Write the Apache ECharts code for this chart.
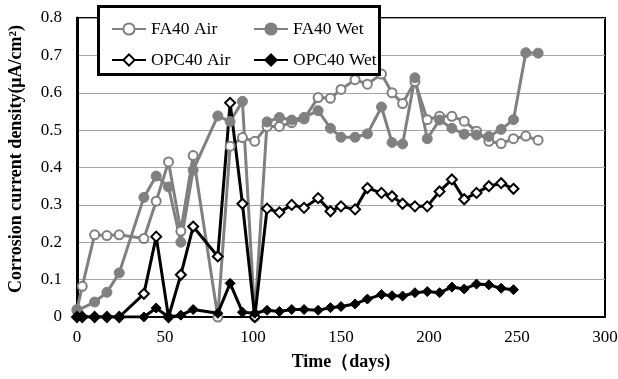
<!DOCTYPE html>
<html>
<head>
<meta charset="utf-8">
<script src="https://cdn.jsdelivr.net/npm/echarts@6/dist/echarts.min.js"></script>
<style>html,body{margin:0;padding:0;background:#fff}#c{width:618px;height:379px}</style>
</head>
<body>
<div id="c"></div>
<script>
// Days of measurement
var faAirDays = [0,3,10,17,24,38,45,52,59,66,80,87,94,101,108,115,122,129,137,144,150,158,165,173,179,185,192,199,206,213,220,227,234,241,248,255,262];
var faAir = [0.02,0.082,0.22,0.218,0.22,0.21,0.31,0.415,0.23,0.432,0.0,0.457,0.48,0.47,0.51,0.51,0.52,0.53,0.587,0.585,0.609,0.635,0.623,0.65,0.6,0.571,0.63,0.528,0.537,0.537,0.524,0.497,0.47,0.464,0.477,0.484,0.473];
var faWetDays = [0,10,17,24,38,45,52,59,66,80,87,94,101,108,115,122,129,137,144,150,158,165,173,179,185,192,199,206,213,220,227,234,241,248,255,262];
var faWet = [0.017,0.04,0.066,0.118,0.32,0.377,0.348,0.2,0.393,0.538,0.523,0.577,0.0,0.522,0.534,0.527,0.534,0.552,0.505,0.481,0.481,0.49,0.562,0.467,0.463,0.64,0.477,0.527,0.505,0.489,0.487,0.483,0.502,0.528,0.707,0.706];
var opcDays = [0,3,10,17,24,38,45,52,59,66,80,87,94,101,108,115,122,129,137,144,150,158,165,173,179,185,192,199,206,213,220,227,234,241,248];
var opcAir = [0,0,0,0,0,0.062,0.215,0,0.113,0.242,0.162,0.573,0.303,0,0.29,0.28,0.3,0.292,0.318,0.283,0.296,0.288,0.345,0.332,0.323,0.303,0.296,0.296,0.336,0.368,0.315,0.332,0.35,0.358,0.343];
var opcWet = [0,0,0,0,0,0,0.024,0,0.005,0.02,0.01,0.09,0.013,0.01,0.018,0.015,0.02,0.02,0.018,0.025,0.028,0.035,0.048,0.06,0.057,0.056,0.065,0.068,0.065,0.08,0.075,0.088,0.086,0.077,0.073];
var seriesNames = ['FA40 Air','FA40 Wet','OPC40 Air','OPC40 Wet'];
var xTitle = 'Time\uFF08days)';
var yTitle = 'Corrosion current density(\u03BCA/cm\u00B2)';

function pairs(d, v){ return d.map(function(x,i){ return [x, v[i]]; }); }

var FONT = 'Liberation Serif';
var GRAY = '#808080';
var chart = echarts.init(document.getElementById('c'));
chart.setOption({
  animation: false,
  textStyle: {fontFamily: FONT},
  grid: {left: 77, right: 13, top: 18, bottom: 62, show: true, borderColor: '#000', borderWidth: 2, outerBoundsMode: 'none', containLabel: false},
  xAxis: {
    type: 'value', min: 0, max: 300, interval: 50,
    axisLine: {show: true, lineStyle: {color: '#000', width: 2}},
    axisTick: {show: false},
    splitLine: {show: false},
    axisLabel: {color: '#000', fontFamily: FONT, fontSize: 17, margin: 12},
    name: xTitle, nameLocation: 'middle', nameGap: 36,
    nameTextStyle: {color: '#000', fontFamily: FONT, fontSize: 18, fontWeight: 'bold'}
  },
  yAxis: {
    type: 'value', min: 0, max: 0.8, interval: 0.1,
    axisLine: {show: true, lineStyle: {color: '#000', width: 3}},
    axisTick: {show: false},
    splitLine: {show: true, lineStyle: {color: '#a6a6a6', width: 1}},
    axisLabel: {color: '#000', fontFamily: FONT, fontSize: 17, margin: 15}
  },
  graphic: [{
    type: 'rect', left: 97, top: 5, z: 90,
    shape: {width: 281, height: 68},
    style: {fill: '#fff', stroke: '#000', lineWidth: 3}
  }, {
    type: 'text', x: 16, y: 159, rotation: Math.PI / 2, z: 50,
    style: {text: yTitle, fill: '#000', font: 'bold 18px "Liberation Serif"', align: 'center', verticalAlign: 'middle'}
  }],
  legend: [{
    data: [seriesNames[0], seriesNames[2]], orient: 'vertical',
    left: 106, top: 15, itemWidth: 34, itemHeight: 14, itemGap: 13, z: 100,
    textStyle: {color: '#000', fontFamily: FONT, fontSize: 17.5}
  }, {
    data: [seriesNames[1], seriesNames[3]], orient: 'vertical',
    left: 248, top: 15, itemWidth: 34, itemHeight: 14, itemGap: 13, z: 100,
    textStyle: {color: '#000', fontFamily: FONT, fontSize: 17.5}
  }],
  series: [{
    name: seriesNames[0], type: 'line', data: pairs(faAirDays, faAir),
    symbol: 'circle', symbolSize: 9,
    lineStyle: {color: GRAY, width: 3},
    itemStyle: {color: '#fff', borderColor: GRAY, borderWidth: 2}
  }, {
    name: seriesNames[1], type: 'line', data: pairs(faWetDays, faWet),
    symbol: 'circle', symbolSize: 10,
    lineStyle: {color: GRAY, width: 3},
    itemStyle: {color: GRAY, borderColor: GRAY, borderWidth: 1}
  }, {
    name: seriesNames[2], type: 'line', data: pairs(opcDays, opcAir),
    symbol: 'diamond', symbolSize: 10,
    lineStyle: {color: '#000', width: 3},
    itemStyle: {color: '#fff', borderColor: '#000', borderWidth: 2}
  }, {
    name: seriesNames[3], type: 'line', data: pairs(opcDays, opcWet),
    symbol: 'diamond', symbolSize: 10,
    lineStyle: {color: '#000', width: 3},
    itemStyle: {color: '#000', borderColor: '#000', borderWidth: 1}
  }]
});
</script>
</body>
</html>
